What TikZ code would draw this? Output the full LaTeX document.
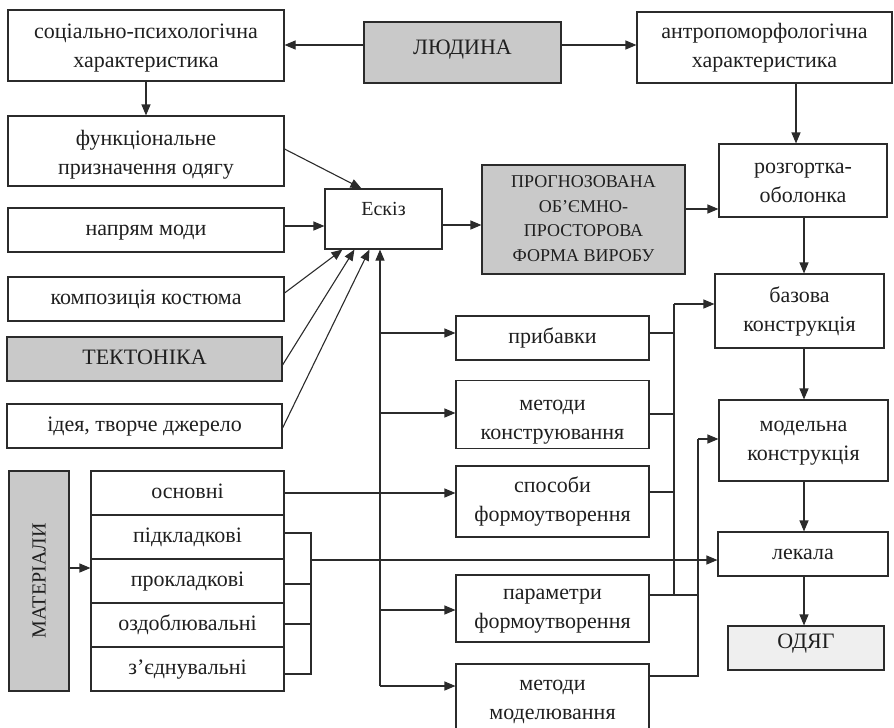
\documentclass[tikz,border=0pt]{standalone}
\usepackage{fontspec}
\setmainfont{Liberation Serif}
\usetikzlibrary{arrows.meta}
\definecolor{ln}{HTML}{2B2B2B}
\definecolor{gfill}{HTML}{C9C9C9}
\definecolor{lfill}{HTML}{EFEFEF}
\newcommand\SU{\strut}
\newcommand\DN[1]{\rule{0pt}{#1}}
\newcommand\UPP[1]{\rule[-#1]{0pt}{#1}}
\begin{document}
\begin{tikzpicture}[x=1pt,y=-1pt,
  box/.style={draw=ln, line width=1.1pt, rectangle, inner sep=0pt, align=center,
    text=black!88, font=\fontsize{22}{29}\selectfont},
  gbox/.style={box, fill=gfill},
  arr/.style={draw=ln, line width=1.1pt, -{Triangle[length=11pt,width=9pt]}},
  ln/.style={draw=ln, line width=1.1pt}]
\useasboundingbox (0,0) rectangle (894,728);
% nodes
\node[box, minimum width=276pt, minimum height=71pt] (soc) at (146,45.5) {\DN{24.3pt}соціально-психологічна\\\SU характеристика};
\node[gbox, minimum width=197pt, minimum height=61pt] (lud) at (462.5,52.5) {\SU\UPP{16.7pt}ЛЮДИНА};
\node[box, minimum width=255pt, minimum height=71pt] (antr) at (764.5,47.5) {\SU антропоморфологічна\\\SU характеристика};
\node[box, minimum width=276pt, minimum height=70pt] (func) at (146,151) {\DN{26.3pt}функціональне\\\SU призначення одягу};
\node[box, minimum width=117pt, minimum height=60pt, font=\fontsize{20}{22}\selectfont, text height=14pt, text depth=22pt] (esk) at (383.5,219) {Ескіз};
\node[box, minimum width=276pt, minimum height=44pt] (nap) at (146,230) {\SU напрям моди};
\node[box, minimum width=276pt, minimum height=44pt] (komp) at (146,299) {\SU композиція костюма};
\node[gbox, minimum width=275pt, minimum height=44pt] (tekt) at (144.5,359) {\SU ТЕКТОНІКА};
\node[box, minimum width=275pt, minimum height=44pt] (idea) at (144.5,426) {\SU ідея, творче джерело};
\node[gbox, minimum width=203pt, minimum height=109pt, font=\fontsize{18}{24.5}\selectfont] (prog) at (583.5,219.5) {\SU ПРОГНОЗОВАНА\\\SU ОБ’ЄМНО-\\\SU ПРОСТОРОВА\\\SU ФОРМА ВИРОБУ};
\node[box, minimum width=168pt, minimum height=73pt] (rozg) at (803,180.5) {\DN{24.3pt}розгортка-\\\SU оболонка};
\node[box, minimum width=169pt, minimum height=74pt] (baz) at (799.5,311) {\SU базова\\\SU конструкція};
\node[box, minimum width=193pt, minimum height=44pt] (prib) at (552.5,338) {\SU прибавки};
\node[box, minimum width=193pt, minimum height=67pt] (mk) at (552.5,414.5) {\DN{30.3pt}методи\\\SU конструювання};
\node[box, minimum width=169pt, minimum height=81pt] (model) at (803.5,440.5) {\SU модельна\\\SU конструкція};
\node[box, minimum width=193pt, minimum height=71pt] (sposob) at (552.5,501.5) {\SU способи\\\SU формоутворення};
\node[box, minimum width=170pt, minimum height=44pt] (lek) at (803,554) {\SU лекала};
\node[box, minimum width=193pt, minimum height=67pt] (param) at (552.5,608.5) {\SU параметри\\\SU формоутворення};
\node[box, fill=lfill, minimum width=156pt, minimum height=44pt] (odyag) at (806,648) {\SU\UPP{18.7pt}ОДЯГ};
\node[box, minimum width=193pt, minimum height=71pt] (mm) at (552.5,699.5) {\SU методи\\\SU моделювання};
\node[gbox, minimum width=60pt, minimum height=220pt] (mat) at (39,581) {};
\node[rotate=90, font=\fontsize{20}{24}\selectfont, text=black!88, inner sep=0pt] (matt) at (mat.center) {МАТЕРІАЛИ};
\node[box, minimum width=193pt, minimum height=44pt] (r1) at (187.5,493) {\SU основні};
\node[box, minimum width=193pt, minimum height=44pt] (r2) at (187.5,537) {\SU підкладкові};
\node[box, minimum width=193pt, minimum height=44pt] (r3) at (187.5,581) {\SU прокладкові};
\node[box, minimum width=193pt, minimum height=44pt] (r4) at (187.5,625) {\SU оздоблювальні};
\node[box, minimum width=193pt, minimum height=44pt] (r5) at (187.5,669) {\SU з’єднувальні};
% helper coordinates
\coordinate (yL) at (0,45);
\coordinate (xA) at (796,0);
\coordinate (yN) at (0,226);
\coordinate (yE) at (0,225);
\coordinate (yP) at (0,209);
\coordinate (xB) at (804,0);
\coordinate (tb) at (380,686);
\coordinate (b1) at (380,333);
\coordinate (b2) at (380,413);
\coordinate (b4) at (380,610);
\coordinate (j1) at (674,304);
\coordinate (j1b) at (674,595);
\coordinate (j2) at (698,439);
\coordinate (j2b) at (698,676);
\coordinate (k1) at (311,533);
\coordinate (k2) at (311,674);
\coordinate (k3) at (311,584);
\coordinate (k4) at (311,624);
\coordinate (k5) at (311,560);
\coordinate (ym) at (0,568);
% top connectors
\draw[arr] (lud.west |- yL) -- (soc.east |- yL);
\draw[arr] (lud.east |- yL) -- (antr.west |- yL);
\draw[arr] (soc.south) -- (func.north);
\draw[arr] (antr.south -| xA) -- (rozg.north -| xA);
% into sketch
\draw[arr] ([yshift=2pt]func.east) -- ([xshift=37pt]esk.north west);
\draw[arr] (nap.east |- yN) -- (esk.west |- yN);
\draw[arr] ([yshift=6pt]komp.east) -- ([xshift=18pt]esk.south west);
\draw[arr] ([yshift=-6pt]tekt.east) -- ([xshift=30pt]esk.south west);
\draw[arr] ([yshift=-2pt]idea.east) -- ([xshift=45pt]esk.south west);
\draw[arr] (tb) -- (tb |- esk.south);
% sketch to form
\draw[arr] (esk.east |- yE) -- (prog.west |- yE);
\draw[arr] (prog.east |- yP) -- (rozg.west |- yP);
% right column
\draw[arr] (rozg.south -| xB) -- (baz.north -| xB);
\draw[arr] (baz.south -| xB) -- (model.north -| xB);
\draw[arr] (model.south -| xB) -- (lek.north -| xB);
\draw[arr] (lek.south -| xB) -- (odyag.north -| xB);
% trunk branches
\draw[arr] (b1) -- (b1 -| prib.west);
\draw[arr] (b2) -- (b2 -| mk.west);
\draw[arr] (r1.east) -- (r1.east -| sposob.west);
\draw[arr] (b4) -- (b4 -| param.west);
\draw[arr] (tb) -- (tb -| mm.west);
% collectors to base / model construction
\draw[ln] (prib.east |- 0,333) -- (674,333);
\draw[ln] (mk.east |- 0,414) -- (674,414);
\draw[ln] (sposob.east |- 0,492) -- (674,492);
\draw[ln] (param.east |- j1b) -- (j2 |- j1b);
\draw[ln] (j1b) -- (j1);
\draw[arr] (j1) -- (j1 -| baz.west);
\draw[ln] (mm.east |- j2b) -- (j2b) -- (j2);
\draw[arr] (j2) -- (j2 -| model.west);
% materials
\draw[arr] (mat.east |- ym) -- (r3.west |- ym);
\draw[ln] (r2.east |- k1) -- (k1) -- (k2) -- (r5.east |- k2);
\draw[ln] (r3.east |- k3) -- (k3);
\draw[ln] (r4.east |- k4) -- (k4);
\draw[arr] (k5) -- (k5 -| lek.west);
\end{tikzpicture}
\end{document}
